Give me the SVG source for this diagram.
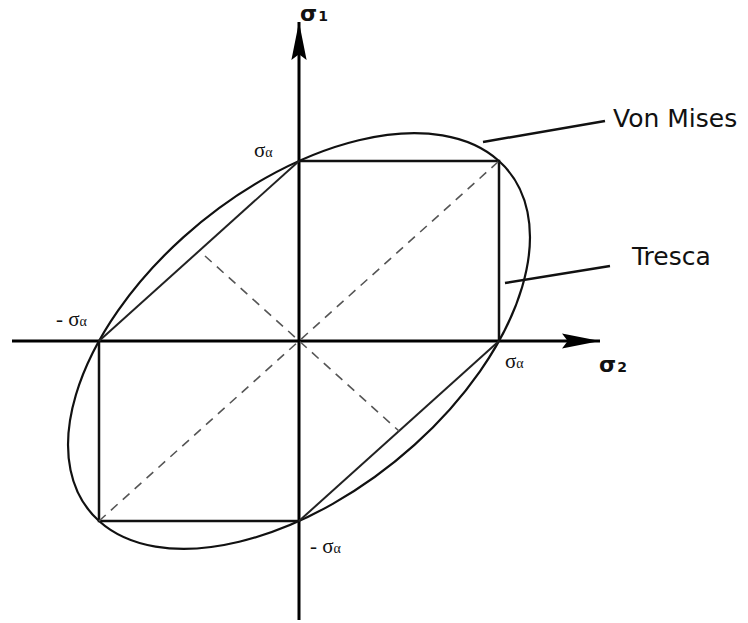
<svg xmlns="http://www.w3.org/2000/svg" width="748" height="623" viewBox="0 0 748 623">
<style>
.axis{stroke:#000;stroke-width:3;fill:none}
.sq{stroke:#111;stroke-width:2.5;fill:none}
.edge{stroke:#222;stroke-width:2;fill:none}
.dash{stroke:#555;stroke-width:1.6;fill:none;stroke-dasharray:9 7}
.lead{stroke:#111;stroke-width:2.5;fill:none}
.lbl{font-family:"DejaVu Sans","Liberation Sans",sans-serif;font-size:25px;fill:#111}
.sig{font-family:"Liberation Serif","DejaVu Serif",serif;font-size:21px;fill:#111}
.ax{font-family:"DejaVu Sans","Liberation Sans",sans-serif;font-size:22px;font-weight:bold;fill:#111}
</style>
<defs>
<marker id="arr" viewBox="0 0 40 16" refX="40" refY="8" markerWidth="38" markerHeight="16" markerUnits="userSpaceOnUse" orient="auto">
<path d="M0,0 L40,8 L0,16 L6,8 Z" fill="#000"/>
</marker>
</defs>
<rect width="748" height="623" fill="#fff"/>
<g id="axes">
<line class="axis" x1="12" y1="341" x2="600" y2="341" marker-end="url(#arr)"/>
<line class="axis" x1="299" y1="620" x2="299" y2="22" marker-end="url(#arr)"/>
</g>
<g id="von-mises">
<ellipse transform="translate(299,341) scale(200,-180) rotate(45)" cx="0" cy="0" rx="1.41421" ry="0.81650" fill="none" stroke="#111" stroke-width="2.2" vector-effect="non-scaling-stroke"/>
</g>
<g id="tresca">
<polyline class="sq" points="299,161 499,161 499,341"/>
<polyline class="sq" points="99,341 99,521 299,521"/>
<line class="edge" x1="99" y1="341" x2="299" y2="161"/>
<line class="edge" x1="299" y1="521" x2="499" y2="341"/>
</g>
<g id="diagonals">
<line class="dash" x1="99" y1="521" x2="499" y2="161"/>
<line class="dash" x1="205" y1="256" x2="399" y2="431"/>
</g>
<g id="connectors">
<line class="lead" x1="483" y1="142" x2="605" y2="121"/>
<line class="lead" x1="505" y1="283" x2="610" y2="266"/>
</g>
<g id="labels">
<text class="lbl" x="613" y="127">Von Mises</text>
<text class="lbl" x="632" y="265">Tresca</text>
<text class="ax" x="300" y="21">σ<tspan font-size="14" dx="1">1</tspan></text>
<text class="ax" x="599" y="372">σ<tspan font-size="14" dx="1">2</tspan></text>
<text class="sig" x="254" y="157">σ<tspan font-size="14">α</tspan></text>
<text class="sig" x="56" y="326">- σ<tspan font-size="14">α</tspan></text>
<text class="sig" x="505" y="368">σ<tspan font-size="14">α</tspan></text>
<text class="sig" x="310" y="553">- σ<tspan font-size="14">α</tspan></text>
</g>
</svg>
